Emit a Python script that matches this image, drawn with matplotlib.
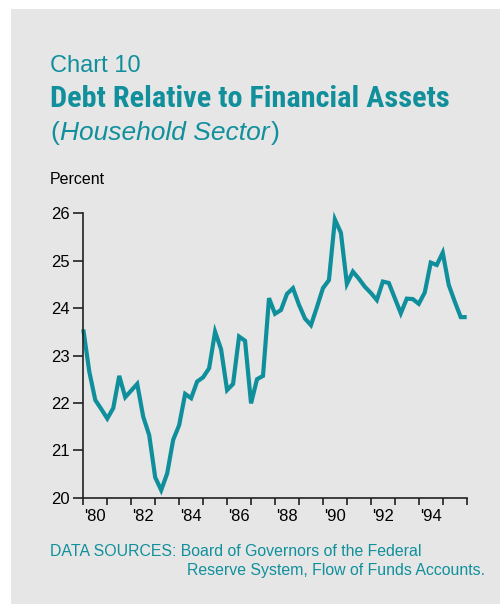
import numpy as np
import matplotlib
matplotlib.use("Agg")
import matplotlib.pyplot as plt
from matplotlib.patches import Rectangle

# Quarterly data, 1980Q1 .. 1996Q1
start_year = 1980.0
values = [23.55, 22.66, 22.06, 21.87, 21.67, 21.89, 22.57, 22.12, 22.26, 22.40,
          21.71, 21.32, 20.43, 20.16, 20.51, 21.22, 21.53, 22.19, 22.10, 22.45,
          22.54, 22.73, 23.50, 23.13, 22.27, 22.40, 23.40, 23.31, 21.99, 22.50,
          22.57, 24.21, 23.88, 23.96, 24.30, 24.42, 24.07, 23.78, 23.64, 24.02,
          24.42, 24.59, 25.87, 25.59, 24.51, 24.77, 24.62, 24.45, 24.32, 24.17,
          24.56, 24.53, 24.21, 23.89, 24.20, 24.19, 24.09, 24.33, 24.96, 24.91,
          25.17, 24.49, 24.14, 23.81, 23.81]
x_dates = start_year + 0.25 * np.arange(len(values))

year_ticks = list(range(1980, 1997))
label_years = [1980, 1982, 1984, 1986, 1988, 1990, 1992, 1994]
label_texts = ["'80", "'82", "'84", "'86", "'88", "'90", "'92", "'94"]
y_ticks = [20, 21, 22, 23, 24, 25, 26]

TEAL = "#11909c"
LINE = "#0e8f9b"
BG = "#e6e6e6"

fig = plt.figure(figsize=(5.0, 6.06), dpi=100)
fig.patch.set_facecolor("white")
fig.patches.append(Rectangle((11 / 500, 0.003), 489 / 500, 595 / 606,
                             transform=fig.transFigure, facecolor=BG,
                             edgecolor="none", zorder=-5))

ax = fig.add_axes([83.3 / 500, (606 - 497.7) / 606, 383.4 / 500, 284.4 / 606])
ax.set_zorder(2)
ax.set_facecolor("none")
ax.plot(x_dates, values, color=LINE, lw=3.0, solid_joinstyle="miter",
        solid_capstyle="butt", clip_on=False)
ax.set_xlim(1980, 1996)
ax.set_ylim(20, 26)
for s in ["top", "right"]:
    ax.spines[s].set_visible(False)
for s in ["left", "bottom"]:
    ax.spines[s].set_linewidth(1.2)
    ax.spines[s].set_color("#222222")

ax.set_yticks(y_ticks)
ax.set_yticklabels([str(v) for v in y_ticks], fontsize=12,
                   family="Liberation Sans")
ax.tick_params(axis="y", length=7, width=1.2, pad=3, color="#222222")

ax.set_xticks(year_ticks)
ax.set_xticklabels([])
ax.set_xticks([y + 0.5 for y in label_years], minor=True)
ax.set_xticklabels(label_texts, minor=True, fontsize=12,
                   family="Liberation Sans")
ax.tick_params(axis="x", which="major", length=5, width=1.2, color="#222222")
ax.tick_params(axis="x", which="minor", length=0, pad=8)

fig.text(50 / 500, 1 - 65.5 / 606, "Chart 10", color=TEAL, fontsize=17,
         family="Liberation Sans", va="center", ha="left")
fig.text(50 / 500, 1 - 99 / 606, "Debt Relative to Financial Assets",
         color=TEAL, fontsize=21.8, fontweight="bold",
         family=["Liberation Sans Narrow", "DejaVu Sans Condensed",
                 "Roboto Condensed", "Roboto"], va="center", ha="left")
fig.text(50 / 500, 1 - 133 / 606, "(", color=TEAL, fontsize=19,
         family="Liberation Sans", va="center", ha="left")
fig.text(60 / 500, 1 - 133 / 606, "Household Sector", color=TEAL, fontsize=19,
         family="Liberation Sans", style="italic", va="center", ha="left")
fig.text(271 / 500, 1 - 133 / 606, ")", color=TEAL, fontsize=19,
         family="Liberation Sans", va="center", ha="left")
fig.text(50 / 500, 1 - 180 / 606, "Percent", color="black", fontsize=11.5,
         family="Liberation Sans", va="center", ha="left")

fig.text(50 / 500, 1 - 551 / 606, "DATA SOURCES: Board of Governors of the Federal",
         color=TEAL, fontsize=11.4, family="Liberation Sans", va="center", ha="left")
fig.text(186.7 / 500, 1 - 570 / 606, "Reserve System, Flow of Funds Accounts.",
         color=TEAL, fontsize=11.4, family="Liberation Sans", va="center", ha="left")

fig.savefig("out.png", dpi=100, facecolor="white")
